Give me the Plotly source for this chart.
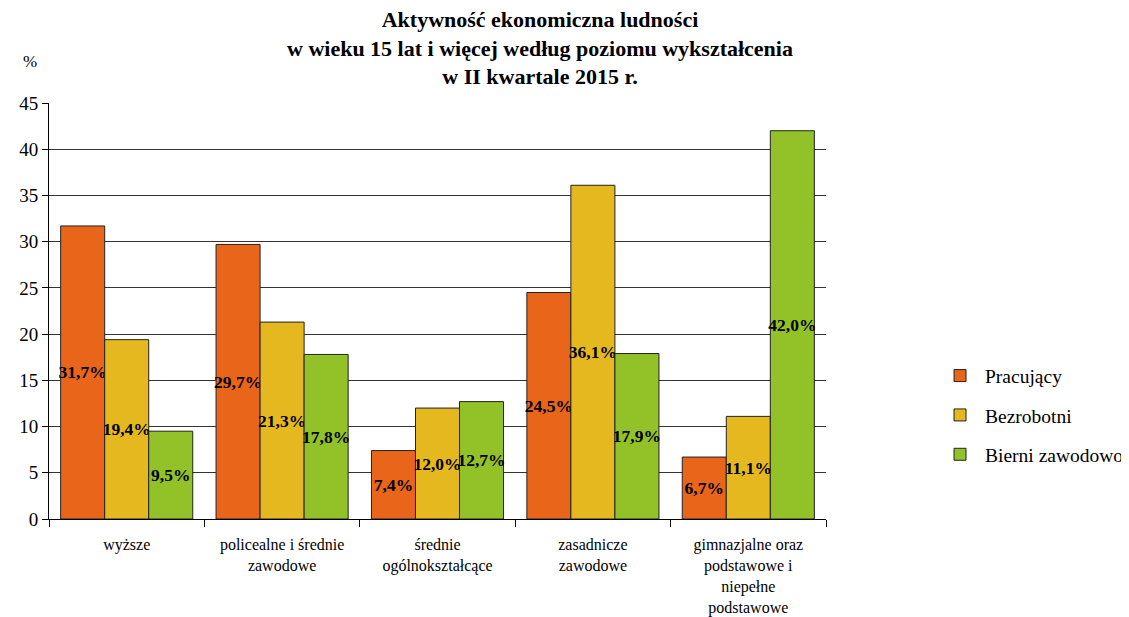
import plotly.graph_objects as go

categories = ["wyższe", "policealne i średnie<br>zawodowe", "średnie<br>ogólnokształcące",
              "zasadnicze<br>zawodowe", "gimnazjalne oraz<br>podstawowe i<br>niepełne<br>podstawowe"]
series_names = ["Pracujący", "Bezrobotni", "Bierni zawodowo"]
pracujacy = [31.7, 29.7, 7.4, 24.5, 6.7]
bezrobotni = [19.4, 21.3, 12.0, 36.1, 11.1]
bierni = [9.5, 17.8, 12.7, 17.9, 42.0]
colors = ["#E8651A", "#E5B81F", "#92C227"]
y_ticks = [0, 5, 10, 15, 20, 25, 30, 35, 40, 45]

FONT = "Liberation Serif"

def fmt(v):
    return f"{v:.1f}".replace(".", ",") + "%"

fig = go.Figure()
for i, (name, vals) in enumerate(zip(series_names, [pracujacy, bezrobotni, bierni])):
    fig.add_trace(go.Bar(
        name=name, x=categories, y=vals,
        marker=dict(color=colors[i], line=dict(color="#222222", width=1)),
        text=[fmt(v) for v in vals], textposition="inside", insidetextanchor="middle",
        textangle=0, constraintext="none",
        textfont=dict(family=FONT, size=17.5, color="black", weight="bold"),
        legendgroup=name,
    ))

fig.update_layout(
    width=1129, height=617,
    paper_bgcolor="white", plot_bgcolor="white",
    barmode="group", bargap=0.15, bargroupgap=0,
    margin=dict(l=41, r=311, t=95, b=106, autoexpand=False),
    font=dict(family=FONT, color="black"),
    legend=dict(x=0.8211, xref="container", y=0.249, xanchor="left", yanchor="middle",
                font=dict(family=FONT, size=19.5, color="black"),
                traceorder="grouped", tracegroupgap=11, itemwidth=40),
    showlegend=True,
)
fig.add_annotation(
    text="<b>Aktywność ekonomiczna ludności<br>w wieku 15 lat i więcej według poziomu wykształcenia<br>w II kwartale 2015 r.</b>",
    xref="paper", yref="paper", x=0.632, y=1.132, xanchor="center", yanchor="middle",
    showarrow=False, font=dict(family=FONT, size=22, color="black"))
fig.update_xaxes(
    tickfont=dict(family=FONT, size=16, color="black"),
    showline=True, linecolor="black", linewidth=1,
    ticks="outside", ticklen=7, tickcolor="black", tickson="boundaries",
    ticklabelstandoff=11, automargin=False,
    showgrid=False,
)
fig.update_yaxes(
    range=[0, 45], tickvals=y_ticks,
    tickfont=dict(family=FONT, size=19, color="black"),
    showline=True, linecolor="black", linewidth=1,
    ticks="outside", ticklen=6, tickcolor="black",
    showgrid=True, gridcolor="#333333", gridwidth=1,
    zeroline=False, automargin=False,
)
fig.add_annotation(text="%", xref="paper", yref="paper", x=-0.025, y=1.1,
                   xanchor="center", yanchor="middle", showarrow=False,
                   font=dict(family=FONT, size=17, color="black"))
fig.write_html("out.html")
